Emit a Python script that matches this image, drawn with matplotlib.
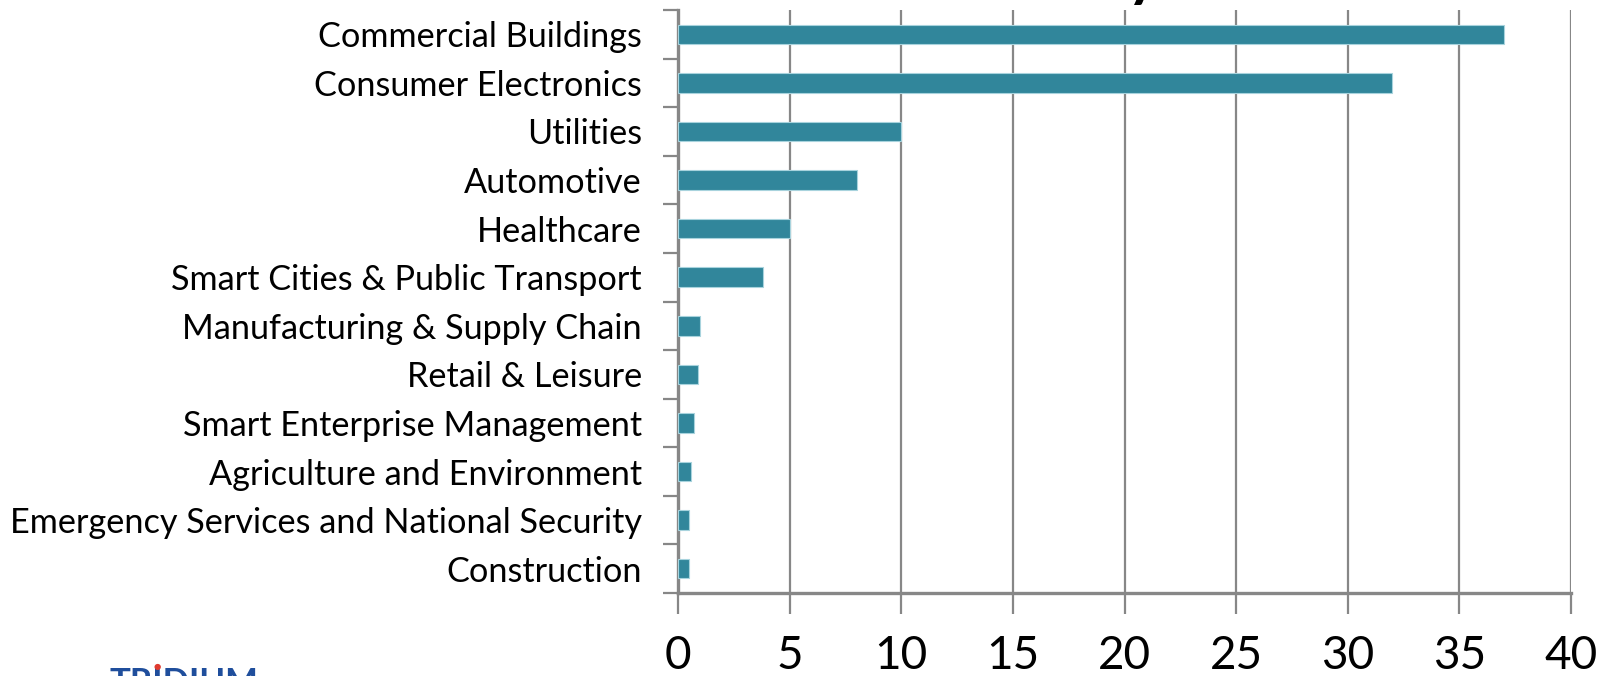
import matplotlib
matplotlib.use("Agg")
import matplotlib.pyplot as plt

categories = [
    "Commercial Buildings",
    "Consumer Electronics",
    "Utilities",
    "Automotive",
    "Healthcare",
    "Smart Cities & Public Transport",
    "Manufacturing & Supply Chain",
    "Retail & Leisure",
    "Smart Enterprise Management",
    "Agriculture and Environment",
    "Emergency Services and National Security",
    "Construction",
]
values = [37, 32, 10, 8, 5, 3.8, 1.0, 0.9, 0.7, 0.6, 0.5, 0.5]
x_ticks = [0, 5, 10, 15, 20, 25, 30, 35, 40]

FONT = "Lato"
W, H = 1608, 676
fig = plt.figure(figsize=(W / 100, H / 100), dpi=100)
ax = fig.add_axes([678 / W, (H - 593) / H, (1571 - 678) / W, (593 - 10) / H])

n = len(categories)
ypos = list(range(n))
ax.barh(ypos, values, height=0.40, color="#31869b", edgecolor="#a8d3dd",
        linewidth=0.8, zorder=3)
ax.set_ylim(n - 0.5, -0.5)
ax.set_xlim(0, 40)

grid_col = "#878787"
ax.set_xticks(x_ticks)
ax.set_xticklabels([str(t) for t in x_ticks], fontsize=33, family=FONT)
ax.xaxis.grid(True, color=grid_col, linewidth=1.6, zorder=0)
ax.set_axisbelow(True)

# y ticks between categories, labels at category centres
ax.set_yticks([i - 0.5 for i in range(n + 1)])
ax.set_yticklabels([])
ax.set_yticks(ypos, minor=True)
ax.set_yticklabels(categories, minor=True, fontsize=21, family=FONT)
ax.tick_params(axis="y", which="minor", length=0, pad=26)
ax.tick_params(axis="y", which="major", length=11, width=1.6, color=grid_col, direction="out")
ax.tick_params(axis="x", length=15, width=1.6, color=grid_col, direction="out", pad=15)

for s in ["top", "right"]:
    ax.spines[s].set_visible(False)
for s in ["left", "bottom"]:
    ax.spines[s].set_color(grid_col)
    ax.spines[s].set_linewidth(2.4)

# fit category label font size to reference width (~325px for first label)
fig.canvas.draw()
r = fig.canvas.get_renderer()
labs = ax.get_yticklabels(minor=True)
w0 = labs[0].get_window_extent(r).width
fs = 21 * 325.0 / w0
for t in labs:
    t.set_fontsize(fs)

# fragments of cropped title and logo
fig.text(1143 / W, 1 + 5 / H, "y", fontsize=44, fontweight="bold",
         family=FONT, ha="center", va="baseline", color="black")
fig.text(110 / W, (H - 667) / H, "TRIDIUM", fontsize=25, fontweight="bold",
         family=FONT, ha="left", va="top", color="#1f4e9c")
fig.text(157 / W, (H - 667) / H, "\u25CF", fontsize=6, color="#e03a2f",
         ha="center", va="center", family="DejaVu Sans")

fig.savefig("out.png", dpi=100)
